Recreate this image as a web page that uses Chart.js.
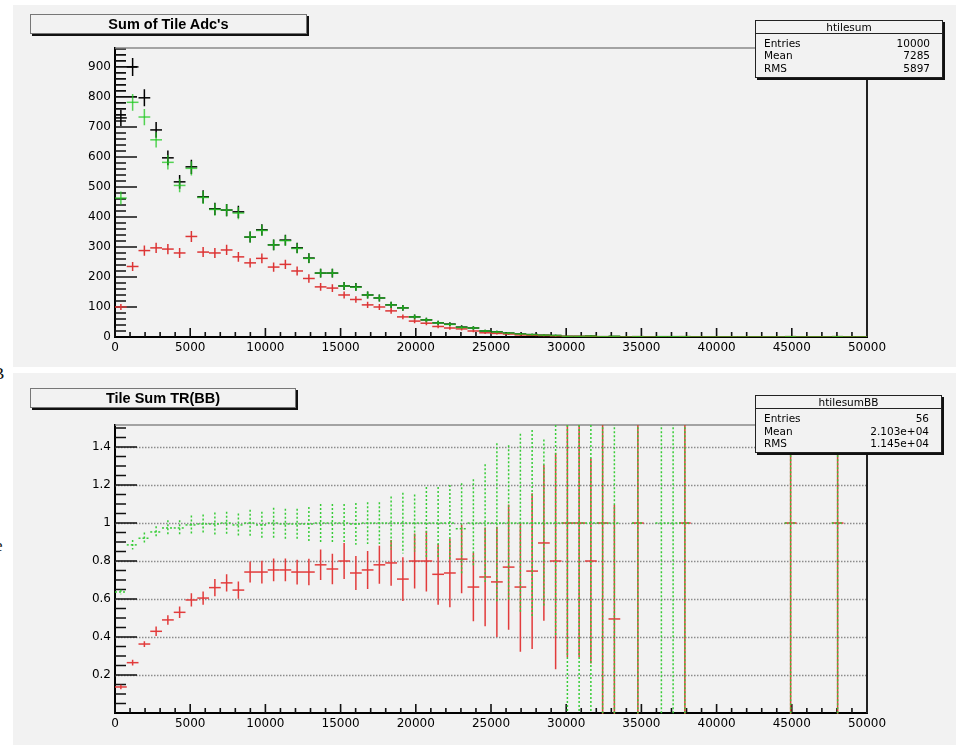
<!DOCTYPE html>
<html>
<head>
<meta charset="utf-8">
<script src="https://cdn.jsdelivr.net/npm/chart.js@4.4.1/dist/chart.umd.min.js"></script>
<style>
  body { margin: 0; width: 962px; height: 749px; background: #fff; position: relative; overflow: hidden; }
  .pad { position: absolute; left: 13px; width: 943px; background: #f2f2f2; }
  #pad1 { top: 5px; height: 362px; }
  #pad2 { top: 373px; height: 372px; }
  .pad canvas { position: absolute; left: 0; top: 0; }
  .edge { position: absolute; font: 17px "Liberation Serif", serif; color: #111; }
  .tbox { position: absolute; z-index: 2; background: #f2f2f2; border: 1px solid #777; box-shadow: 2px 2px 0 #111;
          font: bold 14.5px "Liberation Sans", Arial, sans-serif; text-align: center; color: #000; }
  .sbox { position: absolute; z-index: 2; background: #f2f2f2; border: 1px solid #222; box-shadow: 2px 2px 0 #111;
          font: 10.5px "DejaVu Sans", sans-serif; color: #000; }
  .sbox .hd { position: absolute; left: 0; right: 0; top: 0; height: 12px; border-bottom: 1px solid #222; text-align: center; line-height: 12px; }
  .sbox .row { position: absolute; left: 8px; right: 12px; height: 12px; line-height: 12px; }
  .sbox .row span { float: right; }
</style>
</head>
<body>
<div class="edge" style="left:-7px;top:364px">B</div>
<div class="edge" style="left:-5px;top:536px">e</div>
<div class="pad" id="pad1"><canvas id="histChart" width="943" height="362"></canvas></div>
<div class="pad" id="pad2"><canvas id="ratioChart" width="943" height="372"></canvas></div>

<div class="tbox" style="left:30px;top:14px;width:275px;height:18px;line-height:18px">Sum of Tile Adc's</div>
<div class="sbox" style="left:755px;top:20px;width:186px;height:56px">
  <div class="hd">htilesum</div>
  <div class="row" style="top:16px">Entries<span>10000</span></div>
  <div class="row" style="top:28px">Mean<span>7285</span></div>
  <div class="row" style="top:41px">RMS<span>5897</span></div>
</div>

<div class="tbox" style="left:30px;top:388px;width:264px;height:18px;line-height:18px">Tile Sum TR(BB)</div>
<div class="sbox" style="left:755px;top:395px;width:185px;height:56px">
  <div class="hd">htilesumBB</div>
  <div class="row" style="top:16px">Entries<span>56</span></div>
  <div class="row" style="top:29px">Mean<span>2.103e+04</span></div>
  <div class="row" style="top:41px">RMS<span>1.145e+04</span></div>
</div>

<script>
const nBins = 64;
const xMax = 50000;

// x axis labels, shared by both pads
const xTickValues = [0, 5000, 10000, 15000, 20000, 25000, 30000, 35000, 40000, 45000, 50000];

// top pad: counts per bin (all events, green subset, red subset)
const countTicks = [0, 100, 200, 300, 400, 500, 600, 700, 800, 900];
const allCounts = [
  730, 900, 797, 690, 597, 517, 567, 467, 427, 423,
  417, 333, 357, 307, 323, 297, 263, 213, 213, 170,
  167, 140, 130, 107, 97, 67, 57, 47, 43, 33,
  30, 20, 17, 13, 10, 8, 6, 5, 2, 2,
  3, 1, 2, 0, 1, 0, 1, 1, 1, 0,
  0, 0, 0, 0, 0, 0, 0, 1, 0, 0,
  0, 1, 0, 0
];
const greenCounts = [
  463, 782, 733, 657, 582, 505, 562, 465, 425, 423,
  413, 333, 355, 307, 321, 295, 262, 213, 213, 170,
  166, 140, 130, 107, 97, 67, 57, 47, 42, 32,
  30, 20, 17, 13, 10, 8, 6, 5, 2, 2,
  3, 1, 2, 0, 1, 0, 1, 1, 1, 0,
  0, 0, 0, 0, 0, 0, 0, 1, 0, 0,
  0, 1, 0, 0
];
const redCounts = [
  100, 235, 288, 297, 293, 280, 335, 283, 280, 290,
  267, 247, 262, 233, 242, 220, 195, 167, 163, 140,
  125, 107, 100, 87, 67, 53, 46, 35, 30, 27,
  20, 14, 12, 10, 7, 6, 5, 4, 2, 2,
  2, 1, 1, 0, 1, 0, 0, 0, 1, 0,
  0, 0, 0, 0, 0, 0, 0, 1, 0, 0,
  0, 1, 0, 0
];

// bottom pad: ratios to all events, with their errors (null = empty bin)
const ratioTicks = [0.2, 0.4, 0.6, 0.8, 1, 1.2, 1.4];
const greenRatio = [
  0.637, 0.885, 0.92, 0.953, 0.974, 0.974, 0.99, 0.995, 0.995, 1.0,
  0.99, 1.0, 0.99, 1.0, 0.995, 0.995, 0.995, 1.0, 1.0, 1.0,
  0.995, 1.0, 1.0, 1.0, 1.0, 1.0, 1.0, 1.0, 1.0, 0.97,
  1.0, 1.0, 1.0, 1.0, 1.0, 1.0, 1.0, 1.0, 1.0, 1.0,
  1.0, 1.0, 1.0, null, 1.0, null, 1.0, 1.0, 1.0, null,
  null, null, null, null, null, null, null, 1.0, null, null,
  null, 1.0, null, null
];
const greenRatioErr = [
  0.012, 0.025, 0.03, 0.03, 0.04, 0.04, 0.05, 0.05, 0.06, 0.06,
  0.06, 0.07, 0.07, 0.08, 0.08, 0.08, 0.09, 0.1, 0.1, 0.1,
  0.11, 0.11, 0.11, 0.14, 0.16, 0.15, 0.19, 0.19, 0.2, 0.24,
  0.23, 0.31, 0.42, 0.41, 0.47, 0.49, 0.44, 0.6, 1.0, 1.0,
  1.0, 1.41, 1.41, null, 1.41, null, 1.41, 1.41, 1.41, null,
  null, null, null, null, null, null, null, 1.41, null, null,
  null, 1.41, null, null
];
const redRatio = [
  0.137, 0.265, 0.363, 0.43, 0.49, 0.53, 0.595, 0.605, 0.66, 0.685,
  0.647, 0.742, 0.742, 0.753, 0.753, 0.742, 0.742, 0.78, 0.758, 0.80,
  0.737, 0.753, 0.78, 0.79, 0.705, 0.80, 0.80, 0.73, 0.737, 0.81,
  0.663, 0.716, 0.69, 0.768, 0.663, 0.747, 0.895, 0.80, 1.0, 1.0,
  0.8, 1.0, 0.495, null, 1.0, null, null, null, 1.0, null,
  null, null, null, null, null, null, null, 1.0, null, null,
  null, 1.0, null, null
];
const redRatioErr = [
  0.012, 0.015, 0.015, 0.025, 0.025, 0.03, 0.035, 0.035, 0.045, 0.045,
  0.045, 0.055, 0.06, 0.06, 0.06, 0.065, 0.07, 0.08, 0.08, 0.095,
  0.09, 0.1, 0.1, 0.12, 0.115, 0.145, 0.16, 0.16, 0.18, 0.18,
  0.18, 0.26, 0.29, 0.33, 0.34, 0.41, 0.41, 0.57, 0.705, 0.705,
  0.54, 1.41, 0.6, null, 1.41, null, null, null, 1.41, null,
  null, null, null, null, null, null, null, 1.41, null, null,
  null, 1.41, null, null
];

const binWidth = xMax / nBins;
const binCentres = allCounts.map((_, i) => (i + 0.5) * binWidth);

function toPoints(vals, errs) {
  const pts = [];
  vals.forEach((v, i) => {
    if (v === null) return;
    pts.push({ x: binCentres[i], y: v, e: errs ? errs[i] : Math.sqrt(v) });
  });
  return pts;
}

// half a bin in pixels, so pointStyle 'line' spans the bin
function halfBin(ctx) {
  const x = ctx.chart.scales.x;
  return (x.getPixelForValue(binWidth) - x.getPixelForValue(0)) / 2;
}

// vertical error bars + dashed style per dataset
const errorBars = {
  id: 'errorBars',
  beforeDatasetDraw(chart, args) {
    const ds = chart.data.datasets[args.index];
    chart.ctx.save();
    chart.ctx.setLineDash(ds.dash || []);
  },
  afterDatasetDraw(chart, args) {
    const { ctx, chartArea: a, scales: { y } } = chart;
    const ds = chart.data.datasets[args.index];
    const meta = args.meta;
    ctx.beginPath();
    ctx.rect(a.left, a.top, a.right - a.left, a.bottom - a.top + 1);
    ctx.clip();
    ctx.strokeStyle = ds.pointBorderColor;
    ctx.lineWidth = ds.errWidth || 1.5;
    ctx.beginPath();
    meta.data.forEach((el, i) => {
      const p = ds.data[i];
      if (!p.e) return;
      ctx.moveTo(el.x, y.getPixelForValue(p.y + p.e));
      ctx.lineTo(el.x, y.getPixelForValue(p.y - p.e));
    });
    ctx.stroke();
    ctx.restore();
  }
};

// ROOT-like frame: inward ticks with minor ticks, top/right border, optional dotted grid
const rootFrame = {
  id: 'rootFrame',
  beforeDatasetsDraw(chart, args, o) {
    const { ctx, chartArea: a, scales: { x, y } } = chart;
    ctx.save();
    if (o.grid) {
      ctx.strokeStyle = '#8c8c8c';
      ctx.lineWidth = 1.5;
      ctx.setLineDash([1.5, 1.5]);
      ctx.beginPath();
      o.grid.forEach(v => {
        const py = Math.round(y.getPixelForValue(v)) + 0.5;
        ctx.moveTo(a.left, py);
        ctx.lineTo(a.right, py);
      });
      ctx.stroke();
      ctx.setLineDash([]);
    }
    ctx.strokeStyle = '#111';
    ctx.lineWidth = 1.6;
    ctx.beginPath();
    const nx = Math.round(xMax / o.xMinor);
    for (let k = 0; k <= nx; k++) {
      const px = x.getPixelForValue(k * o.xMinor);
      const len = k % o.xPer === 0 ? o.xMajorLen : o.xMinorLen;
      ctx.moveTo(px, a.bottom);
      ctx.lineTo(px, a.bottom - len);
    }
    const ny = Math.floor((y.max + 1e-9) / o.yMinor);
    for (let k = 1; k <= ny; k++) {
      const py = y.getPixelForValue(k * o.yMinor);
      const len = k % o.yPer === 0 ? o.yMajorLen : o.yMinorLen;
      ctx.moveTo(a.left, py);
      ctx.lineTo(a.left + len, py);
    }
    ctx.stroke();
    ctx.strokeStyle = '#888';
    ctx.lineWidth = 1.5;
    ctx.beginPath();
    ctx.moveTo(a.left, a.top);
    ctx.lineTo(a.right, a.top);
    ctx.stroke();
    ctx.strokeStyle = '#222';
    ctx.lineWidth = 2;
    ctx.beginPath();
    ctx.moveTo(a.right, a.top);
    ctx.lineTo(a.right, a.bottom);
    ctx.stroke();
    ctx.restore();
  }
};

const tickFont = { family: '"DejaVu Sans", sans-serif', size: 12 };

function makeScales(yMax, yTicks, showZero) {
  return {
    x: {
      type: 'linear', min: 0, max: xMax,
      afterBuildTicks: s => { s.ticks = xTickValues.map(v => ({ value: v })); },
      afterFit: s => { s.height = 24; s.paddingLeft = 0; s.paddingRight = 0; },
      grid: { display: false, drawTicks: false },
      border: { display: true, color: '#000', width: 2 },
      ticks: { padding: 4, color: '#000', font: tickFont, maxRotation: 0, autoSkip: false, callback: v => String(v) }
    },
    y: {
      type: 'linear', min: 0, max: yMax,
      afterBuildTicks: s => { s.ticks = yTicks.map(v => ({ value: v })); },
      afterFit: s => { s.width = 102; s.paddingTop = 0; s.paddingBottom = 0; },
      grid: { display: false, drawTicks: false },
      border: { display: true, color: '#000', width: 2 },
      ticks: { padding: 4, color: '#000', font: tickFont, autoSkip: false,
               callback: v => (v === 0 && !showZero) ? '' : String(+v.toFixed(2)) }
    }
  };
}

function crossSet(label, pts, color, order, extra) {
  return Object.assign({
    label, data: pts, order,
    showLine: false,
    pointStyle: 'line',
    pointRadius: halfBin,
    pointBorderWidth: 1.5,
    pointBorderColor: color,
    pointBackgroundColor: color
  }, extra || {});
}

const commonOptions = {
  responsive: false,
  animation: false,
  events: [],
  plugins: { legend: { display: false }, tooltip: { enabled: false } }
};

new Chart(document.getElementById('histChart').getContext('2d'), {
  type: 'scatter',
  data: {
    datasets: [
      crossSet('all', toPoints(allCounts), '#000000', 3),
      crossSet('red', toPoints(redCounts), '#dd3535', 2),
      crossSet('green', toPoints(greenCounts), 'rgba(30,200,30,0.75)', 1)
    ]
  },
  options: Object.assign({}, commonOptions, {
    layout: { padding: { left: 0, right: 89, top: 43, bottom: 6 } },
    scales: makeScales(963, countTicks, true),
    plugins: Object.assign({}, commonOptions.plugins, {
      rootFrame: { xMinor: 1000, xPer: 5, xMajorLen: 9, xMinorLen: 5, yMinor: 20, yPer: 5, yMajorLen: 22, yMinorLen: 11 }
    })
  }),
  plugins: [rootFrame, errorBars]
});

new Chart(document.getElementById('ratioChart').getContext('2d'), {
  type: 'scatter',
  data: {
    datasets: [
      crossSet('red/all', toPoints(redRatio, redRatioErr), '#e23c3c', 2),
      crossSet('green/all', toPoints(greenRatio, greenRatioErr), '#38cc38', 1, { dash: [2, 2] })
    ]
  },
  options: Object.assign({}, commonOptions, {
    layout: { padding: { left: 0, right: 89, top: 52, bottom: 8 } },
    scales: makeScales(1.516, ratioTicks, false),
    plugins: Object.assign({}, commonOptions.plugins, {
      rootFrame: { xMinor: 1000, xPer: 5, xMajorLen: 9, xMinorLen: 5, yMinor: 0.05, yPer: 4, yMajorLen: 22, yMinorLen: 11, grid: ratioTicks }
    })
  }),
  plugins: [rootFrame, errorBars]
});
</script>
</body>
</html>
